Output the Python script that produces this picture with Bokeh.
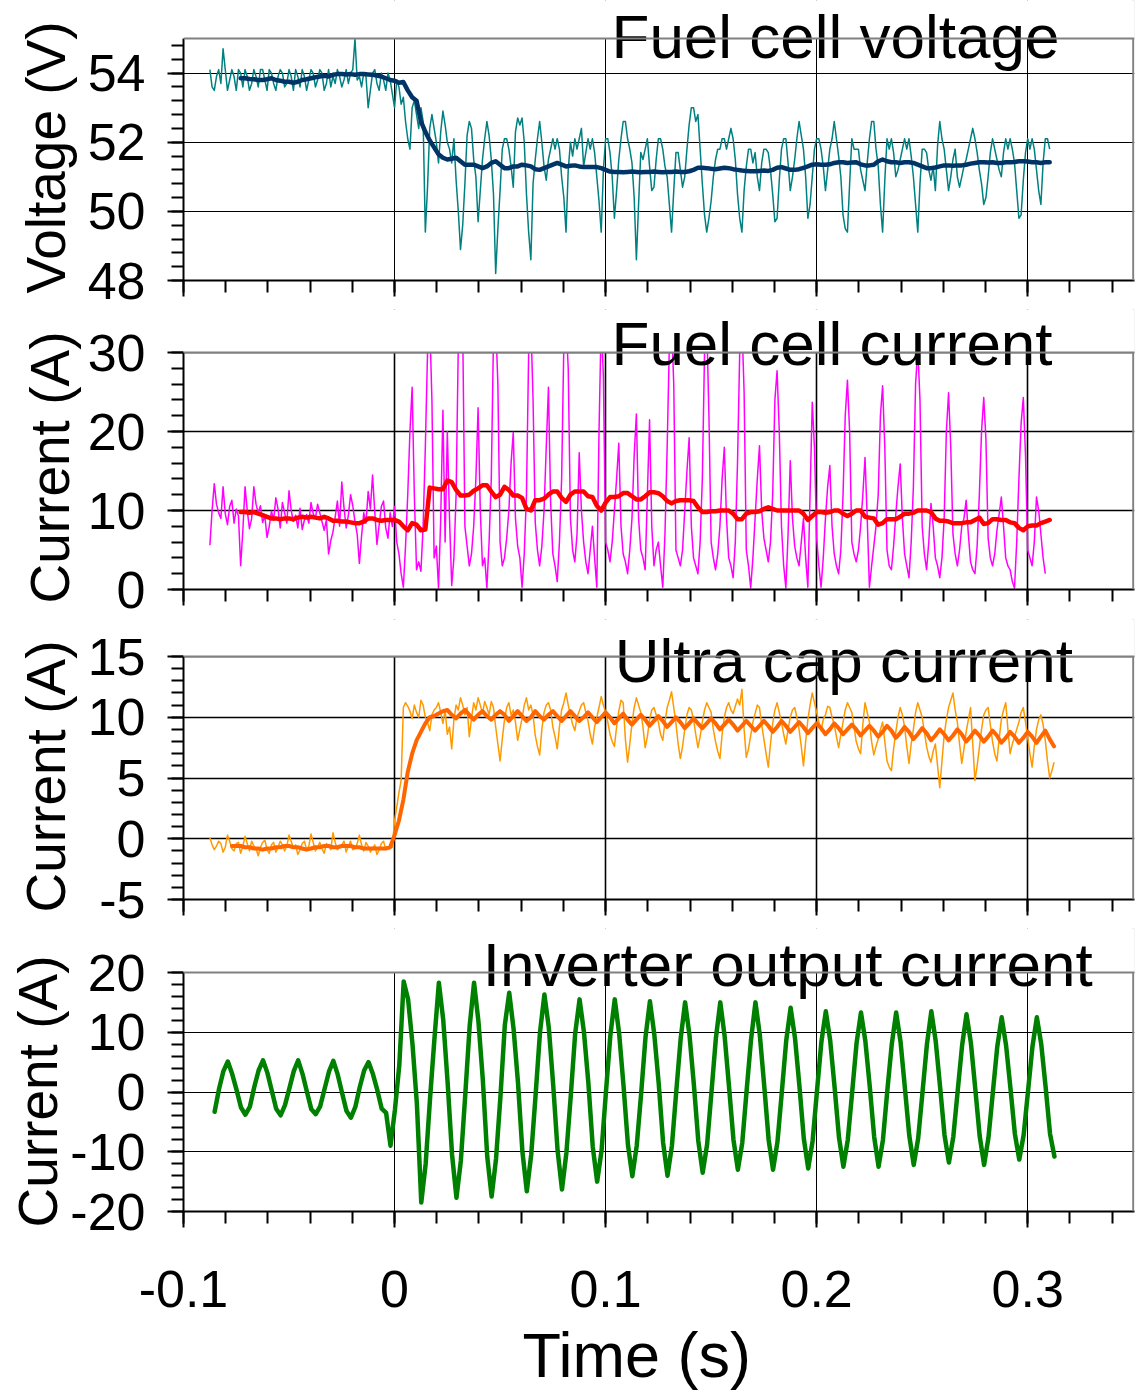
import numpy as np
from bokeh.plotting import figure
from bokeh.models import FixedTicker, Range1d, Label, Title, Span, BoxAnnotation
from bokeh.layouts import column
from bokeh.embed import file_html
from bokeh.resources import INLINE

FONT = "Liberation Sans"

# ---------------- data ----------------
DT = 1.0 / 480.0            # spacing of the averaged / inverter samples (s)
T_RAW0 = -0.0875            # first sample of the raw records (s)
T_VAVG0 = -0.0875 + 7 * DT  # first sample of the averaged voltage / fc current
T_UCAVG0 = -0.0875 + 5 * DT # first sample of the averaged ultra cap current
T_INV0 = -0.0790 - 3 * DT   # first sample of the inverter current
# raw records are read every DT/2: *_RAW holds the samples on the DT grid,
# *_RAW_MID the samples half a step later.

X_TICKS = [-0.1, 0.0, 0.1, 0.2, 0.3]
X_LABELS = ["-0.1", "0", "0.1", "0.2", "0.3"]

V_TICKS = [48, 50, 52, 54]
V_LABELS = ["48", "50", "52", "54"]
IFC_TICKS = [0, 10, 20, 30]
IFC_LABELS = ["0", "10", "20", "30"]
IUC_TICKS = [-5, 0, 5, 10, 15]
IUC_LABELS = ["-5", "0", "5", "10", "15"]
IINV_TICKS = [-20, -10, 0, 10, 20]
IINV_LABELS = ["-20", "-10", "0", "10", "20"]

# Fuel cell voltage, raw (V)
V_RAW = [
    54.1, 53.5, 54.1, 54.7, 53.5, 54.1, 53.5, 54.0, 54.1, 53.5,
    54.1, 53.6, 54.1, 53.5, 54.0, 53.5, 54.1, 53.6, 54.1, 53.5,
    53.9, 54.1, 53.5, 54.1, 53.6, 54.1, 53.5, 54.1, 53.9, 54.1,
    53.6, 54.1, 54.0, 55.0, 53.9, 54.0, 53.0, 54.0, 53.7, 54.0,
    53.5, 53.8,
    53.0, 53.6, 53.3, 52.1, 53.0, 52.8, 53.0, 49.4, 52.4, 52.4,
    51.4, 52.9, 52.0, 51.4, 50.9, 48.9, 50.8, 52.6, 51.5, 49.7,
    51.5, 52.6, 51.5, 48.2, 50.6, 52.1, 51.8, 50.7, 52.7, 52.7,
    50.5, 48.6, 51.5, 52.6, 51.3, 51.5, 52.1, 52.1, 51.0, 49.4,
    52.0, 52.1, 52.1, 51.3, 52.1, 52.1, 51.0, 49.4, 52.1, 51.7,
    49.8, 51.5, 52.6, 52.1, 51.4, 48.6, 51.7, 51.8, 51.3, 50.7,
    52.1, 51.8, 51.0, 49.4, 51.7, 51.2, 51.0, 52.5, 53.0, 52.8,
    50.8, 49.4, 50.3, 51.5, 51.8, 52.1, 52.1, 52.1, 50.5, 49.4,
    51.3, 51.8, 51.7, 50.6, 51.8, 51.7, 50.5, 49.8, 51.8, 52.1,
    50.6, 51.5, 52.6, 51.8, 49.8, 51.0, 52.1, 51.8, 50.6, 51.8,
    52.6, 51.6, 49.9, 49.4, 52.1, 51.8, 51.2, 50.6, 52.1, 52.6,
    51.3, 49.4, 52.1, 52.1, 51.0, 51.5, 52.1, 52.1, 51.0, 49.4,
    51.8, 51.7, 50.9, 50.6, 52.6, 51.8, 50.6, 51.5, 51.0, 51.0,
    51.5, 52.1, 52.1, 51.2, 50.2, 51.0, 52.1, 51.5, 51.0, 52.1,
    52.1, 51.4, 49.8, 50.9, 52.1, 52.1, 51.2, 50.2, 52.1, 51.8,
]
V_RAW_MID = [
    53.6, 53.9, 53.7, 54.1, 53.8, 53.9, 54.1, 53.6, 53.9, 53.7,
    53.9, 54.1, 53.8, 54.1, 53.7, 53.9, 54.0, 53.7, 53.9, 54.1,
    53.6, 53.9, 53.8, 54.0, 53.8, 54.0, 53.7, 53.6, 53.7, 53.9,
    53.8, 53.7, 54.1, 53.8, 53.6, 53.9, 53.5, 54.1, 53.5, 53.8,
    54.0, 53.4,
    53.8, 53.1, 52.6, 51.8, 53.2, 52.4, 52.6, 50.7, 52.8, 52.0,
    52.3, 52.5, 51.8, 52.1, 50.0, 49.6, 52.2, 52.4, 51.0, 50.6,
    52.1, 52.2, 50.5, 49.5, 51.8, 52.1, 51.3, 52.3, 52.5, 52.0,
    49.4, 50.8, 52.1, 52.0, 50.9, 51.8, 51.8, 51.8, 50.4, 51.2,
    51.6, 51.8, 52.4, 51.7, 51.8, 51.7, 50.3, 51.2, 52.1, 51.0,
    50.6, 52.1, 52.6, 51.8, 50.4, 50.2, 51.5, 52.1, 50.6, 51.5,
    52.1, 51.3, 50.2, 50.6, 51.7, 50.7, 51.8, 53.0, 52.6, 51.8,
    49.9, 49.8, 51.0, 51.8, 52.1, 51.8, 52.4, 51.5, 49.8, 50.6,
    51.8, 51.4, 51.0, 51.4, 51.8, 51.2, 49.7, 50.9, 52.1, 51.4,
    51.0, 52.1, 52.2, 51.0, 50.2, 51.8, 52.1, 51.3, 51.2, 52.1,
    52.1, 51.0, 49.5, 50.8, 51.8, 51.8, 50.9, 51.4, 52.6, 51.8,
    50.2, 50.9, 51.8, 51.7, 51.2, 51.8, 51.8, 51.6, 50.2, 50.8,
    51.8, 51.2, 51.3, 51.9, 52.1, 51.2, 51.0, 51.8, 50.7, 51.3,
    51.8, 52.4, 51.7, 50.8, 50.4, 51.7, 51.8, 51.2, 51.7, 51.8,
    51.8, 50.6, 49.9, 51.7, 51.8, 51.8, 50.6, 51.4, 52.1,
]

# Fuel cell voltage, averaged (V)
V_AVG = [
    53.85, 53.85, 53.83, 53.82, 53.80, 53.80, 53.82, 53.85, 53.80, 53.78,
    53.75, 53.75, 53.72, 53.75, 53.80, 53.82, 53.85, 53.88, 53.90, 53.92,
    53.90, 53.95, 53.97, 53.97, 53.96, 53.97, 53.95, 53.97, 53.97, 53.96,
    53.95, 53.93, 53.90, 53.85, 53.80,
    53.78, 53.72, 53.74, 53.50, 53.30, 53.20, 52.60, 52.30, 52.05, 51.85,
    51.65, 51.55, 51.50, 51.52, 51.55, 51.45, 51.35, 51.35, 51.35, 51.30,
    51.25, 51.30, 51.40, 51.45, 51.35, 51.25, 51.25, 51.30, 51.30, 51.35,
    51.33, 51.30, 51.22, 51.20, 51.25, 51.30, 51.35, 51.40, 51.35, 51.30,
    51.32, 51.33, 51.30, 51.28, 51.28, 51.28, 51.28, 51.25, 51.20, 51.15,
    51.14, 51.14, 51.13, 51.14, 51.15, 51.14, 51.13, 51.14, 51.14, 51.15,
    51.14, 51.13, 51.14, 51.14, 51.15, 51.14, 51.14, 51.16, 51.20, 51.26,
    51.26, 51.25, 51.23, 51.22, 51.24, 51.26, 51.25, 51.22, 51.20, 51.18,
    51.17, 51.16, 51.16, 51.17, 51.18, 51.17, 51.20, 51.26, 51.28, 51.24,
    51.20, 51.20, 51.22, 51.26, 51.30, 51.35, 51.36, 51.35, 51.35, 51.36,
    51.40, 51.42, 51.42, 51.40, 51.41, 51.42, 51.36, 51.33, 51.33, 51.35,
    51.45, 51.50, 51.45, 51.42, 51.42, 51.40, 51.42, 51.42, 51.40, 51.35,
    51.30, 51.25, 51.25, 51.27, 51.30, 51.33, 51.33, 51.32, 51.33, 51.33,
    51.35, 51.38, 51.40, 51.42, 51.42, 51.41, 51.42, 51.40, 51.40, 51.42,
    51.42, 51.43, 51.45, 51.45, 51.44, 51.42, 51.42, 51.40, 51.42, 51.42,
]

# Fuel cell current, raw (A)
IFC_RAW = [
    5.6, 13.4, 9.7, 13.0, 8.2, 11.3, 10.2, 3.0, 13.0, 7.7,
    13.0, 9.7, 8.5, 6.6, 9.9, 11.6, 7.8, 9.7, 12.5, 8.6,
    7.8, 7.6, 9.5, 11.0, 9.0, 9.7, 7.5, 4.5, 7.3, 11.2,
    13.6, 7.8, 12.0, 8.6, 3.3, 9.7, 12.4, 14.5, 5.7, 10.5,
    7.8, 9.7,
    10.5, 4.5, 0.3, 12.0, 25.6, 2.5, 2.3, 18.0, 34.0, 4.0,
    0.2, 22.7, 20.0, 0.5, 12.0, 34.0, 8.0, 3.0, 8.0, 23.0,
    3.0, 0.2, 14.0, 34.0, 6.0, 4.0, 10.0, 19.9, 5.5, 0.3,
    12.0, 34.0, 8.5, 3.0, 10.0, 25.6, 4.5, 1.0, 14.0, 34.0,
    9.0, 3.5, 17.3, 6.0, 2.0, 8.0, 0.3, 34.0, 6.0, 3.5,
    10.0, 18.5, 4.5, 2.0, 9.0, 22.2, 5.0, 2.5, 21.5, 3.0,
    6.0, 0.3, 18.0, 34.0, 5.0, 3.0, 10.0, 19.2, 4.0, 2.0,
    14.0, 34.0, 6.0, 2.5, 8.0, 18.0, 4.0, 1.5, 16.0, 34.0,
    5.0, 0.2, 9.0, 18.2, 6.5, 3.5, 12.0, 27.7, 8.0, 0.2,
    16.3, 5.5, 3.0, 9.0, 0.3, 23.7, 6.5, 0.3, 9.0, 15.7,
    4.5, 2.0, 12.0, 26.5, 6.0, 3.5, 8.0, 16.7, 0.3, 5.5,
    12.0, 25.8, 5.0, 2.5, 9.5, 15.9, 4.5, 1.5, 13.0, 30.5,
    8.0, 2.5, 10.9, 4.0, 1.5, 9.0, 24.9, 7.0, 3.0, 8.0,
    11.3, 3.5, 2.0, 12.0, 24.3, 6.5, 3.0, 7.5, 11.7, 4.0,
    2.5, 0.2, 14.0, 24.3, 5.0, 3.0, 11.7, 7.0, 2.0,
]
IFC_RAW_MID = [
    10.0, 10.8, 9.0, 9.6, 10.5, 8.4, 9.3, 7.5, 10.0, 9.0,
    10.8, 10.6, 9.3, 8.0, 8.8, 10.2, 11.0, 8.4, 10.0, 9.4,
    10.3, 8.8, 8.4, 9.6, 10.8, 8.6, 8.8, 6.2, 9.2, 8.0,
    10.4, 9.4, 10.6, 7.0, 6.8, 8.4, 10.2, 9.8, 8.2, 11.2,
    6.5, 8.0,
    6.0, 2.0, 5.5, 20.0, 12.0, 3.5, 8.0, 30.0, 24.0, 5.5,
    9.0, 6.0, 9.0, 4.0, 31.0, 33.0, 5.5, 4.5, 14.0, 10.0,
    4.0, 6.0, 32.0, 26.0, 3.0, 6.5, 16.0, 9.0, 4.0, 4.5,
    30.0, 24.0, 5.0, 5.5, 18.0, 11.0, 3.0, 6.0, 31.0, 28.0,
    5.0, 7.0, 10.0, 3.5, 5.0, 4.0, 20.0, 27.0, 5.0, 6.0,
    14.0, 8.0, 3.5, 5.0, 17.0, 9.0, 4.0, 12.0, 8.0, 5.0,
    3.0, 7.0, 31.0, 26.0, 4.0, 5.0, 15.0, 8.0, 3.0, 6.0,
    30.0, 22.0, 4.0, 4.5, 14.0, 9.0, 3.0, 6.0, 30.0, 25.0,
    3.0, 4.0, 14.0, 10.0, 5.0, 6.0, 24.0, 20.0, 3.0, 7.0,
    9.0, 4.0, 6.0, 4.0, 12.0, 18.0, 3.0, 4.0, 13.0, 8.0,
    3.0, 5.0, 22.0, 20.0, 4.5, 5.0, 12.0, 9.0, 3.0, 8.0,
    22.0, 18.0, 3.0, 5.5, 13.0, 9.0, 3.0, 6.0, 26.0, 24.0,
    4.5, 6.0, 8.0, 3.0, 4.0, 20.0, 18.0, 4.5, 5.0, 9.0,
    7.0, 2.5, 5.5, 20.0, 19.0, 4.0, 4.5, 9.5, 8.0, 3.0,
    1.0, 6.0, 21.0, 17.0, 4.0, 6.0, 10.0, 4.0,
]

# Fuel cell current, averaged (A)
IFC_AVG = [
    9.8, 9.8, 9.7, 9.8, 9.6, 9.4, 9.2, 9.0, 9.0, 8.9,
    9.0, 9.0, 8.9, 9.1, 9.2, 9.1, 9.2, 9.1, 9.0, 9.2,
    9.0, 8.7, 8.7, 8.6, 8.6, 8.5, 8.4, 8.4, 8.6, 9.0,
    9.0, 8.8, 8.7, 8.8, 8.8,
    8.8, 8.6, 8.0, 7.5, 8.4, 8.2, 7.5, 7.6, 12.9, 12.8,
    12.7, 12.7, 13.8, 13.6, 12.6, 11.9, 11.9, 12.0, 12.5, 12.8,
    13.2, 13.2, 12.4, 11.7, 12.0, 13.0, 12.6, 11.9, 11.9, 11.6,
    10.2, 10.0, 11.3, 11.3, 11.5, 12.0, 12.4, 12.4, 11.6, 11.1,
    12.0, 12.4, 12.4, 12.4, 11.8, 11.7, 10.6, 10.0, 11.0, 11.7,
    11.7, 11.8, 12.2, 12.2, 11.8, 11.4, 11.4, 11.8, 12.3, 12.3,
    12.2, 11.8, 11.2, 10.9, 11.2, 11.3, 11.3, 11.3, 11.2, 10.4,
    9.8, 9.8, 9.9, 9.9, 10.0, 10.0, 10.0, 9.6, 8.9, 8.9,
    9.6, 9.8, 9.8, 9.9, 10.2, 10.4, 10.2, 10.0, 10.0, 10.0,
    10.0, 10.0, 10.0, 9.6, 8.8, 9.3, 9.8, 9.8, 9.7, 9.8,
    10.0, 10.0, 9.6, 9.3, 9.6, 10.0, 10.0, 9.2, 9.1, 9.0,
    8.2, 8.4, 8.9, 8.9, 8.9, 9.2, 9.6, 9.6, 9.7, 10.0,
    10.0, 10.0, 9.8, 9.0, 8.7, 8.7, 8.6, 8.4, 8.4, 8.4,
    8.5, 8.5, 8.8, 9.1, 8.3, 8.4, 8.9, 8.9, 8.8, 8.8,
    8.5, 8.4, 7.8, 7.5, 8.0, 8.1, 8.1, 8.4, 8.6, 8.8,
]

# Ultra cap current, raw (A)
IUC_RAW = [
    0.1, -0.9, -0.2, -1.1, 0.3, -0.8, -0.4, -1.2, 0.2, -1.0,
    -0.6, -1.4, -0.3, -0.9, -0.5, -1.1, -0.2, -1.0, 0.3, -0.8,
    -1.3, -0.4, -0.9, 0.4, -1.0, -0.3, -1.2, -0.6, 0.5, -0.9,
    -0.5, -1.1, -0.2, -0.8, 0.3, -1.0, -0.6, -0.8, -1.3, -0.4,
    -0.9, -0.5,
    1.5, 3.8, 10.8, 10.9, 9.9, 10.4, 11.4, 10.0, 8.9, 10.6,
    11.2, 9.5, 8.6, 7.4, 11.0, 11.6, 10.2, 8.4, 11.2, 11.6,
    10.3, 10.8, 11.3, 9.2, 6.4, 9.8, 11.2, 10.6, 8.1, 9.9,
    11.6, 11.0, 8.5, 6.9, 10.4, 11.2, 9.2, 7.4, 10.6, 12.0,
    10.2, 8.9, 10.5, 11.2, 9.7, 7.8, 10.0, 11.7, 10.4, 8.6,
    7.6, 10.5, 11.2, 6.3, 9.5, 11.6, 10.4, 7.5, 9.8, 10.8,
    9.6, 8.1, 10.8, 12.1, 9.5, 6.6, 9.0, 10.8, 9.8, 7.5,
    9.6, 11.2, 10.4, 8.0, 6.6, 10.0, 11.2, 10.3, 11.5, 12.3,
    6.7, 8.5, 10.3, 10.8, 8.2, 5.9, 9.5, 11.2, 9.6, 7.8,
    10.0, 10.8, 9.0, 6.0, 9.8, 12.0, 10.4, 8.9, 10.2, 10.8,
    9.4, 7.5, 9.6, 11.2, 10.4, 8.0, 7.0, 11.2, 9.6, 6.9,
    8.2, 9.6, 6.4, 5.6, 8.8, 10.8, 9.2, 6.2, 9.0, 11.2,
    10.0, 7.6, 6.3, 7.8, 4.2, 8.5, 10.8, 12.0, 9.6, 6.2,
    8.8, 10.8, 4.8, 7.5, 10.2, 10.8, 8.0, 6.4, 9.8, 11.2,
    7.0, 8.4, 9.6, 10.8, 8.3, 5.9, 9.0, 10.2, 8.1, 5.0, 6.3,
]
IUC_RAW_MID = [
    -0.5, -0.6, -0.4, -0.7, -0.2, -1.0, -0.3, -0.6, -0.4, -0.2,
    -0.8, -0.7, -0.1, -1.2, -0.3, -0.7, -0.5, -0.6, -0.2, -0.5,
    -0.9, -0.2, -0.6, -0.3, -0.7, -0.8, -0.4, -0.9, -0.3, -0.7,
    -0.2, -0.6, -0.9, -0.4, -0.5, -0.3, -1.1, -0.5, -0.9, -0.2,
    -0.8, -0.7,
    2.6, 4.8, 11.2, 10.5, 11.0, 10.0, 11.0, 9.6, 10.2, 10.8,
    10.4, 10.6, 9.2, 9.8, 10.6, 11.0, 10.8, 9.9, 10.6, 11.0,
    11.3, 10.2, 10.8, 7.8, 8.2, 10.8, 10.2, 9.6, 9.0, 11.0,
    10.6, 10.2, 7.6, 9.0, 11.0, 10.6, 8.4, 9.2, 11.2, 11.0,
    9.4, 10.0, 11.0, 10.4, 8.6, 9.2, 10.8, 11.0, 9.6, 8.0,
    9.2, 11.4, 8.2, 7.8, 10.8, 11.0, 9.2, 8.4, 10.6, 10.2,
    8.6, 9.6, 11.4, 10.8, 7.8, 7.6, 10.2, 10.6, 8.6, 8.4,
    10.6, 10.8, 9.0, 7.2, 8.6, 10.8, 10.6, 10.9, 11.0, 9.0,
    7.4, 9.6, 11.0, 9.4, 7.0, 7.8, 10.6, 10.4, 8.6, 9.0,
    10.6, 10.0, 7.6, 8.0, 11.0, 11.2, 9.6, 9.8, 10.9, 10.0,
    8.4, 8.6, 10.6, 10.8, 9.2, 7.4, 9.4, 10.4, 8.0, 7.6,
    9.0, 8.0, 5.9, 7.4, 10.0, 10.2, 7.6, 7.8, 10.4, 10.6,
    8.8, 6.8, 7.2, 6.0, 6.4, 9.8, 11.4, 10.6, 7.8, 7.4,
    9.8, 7.8, 6.0, 9.0, 10.6, 9.4, 7.0, 8.2, 10.6, 9.0,
    7.8, 9.0, 10.4, 9.6, 7.0, 7.6, 9.8, 9.4, 6.4, 5.6,
]

# Ultra cap current, averaged (A)
IUC_AVG = [
    -0.6, -0.6, -0.6, -0.7, -0.7, -0.8, -0.8, -0.9, -0.8, -0.8,
    -0.7, -0.7, -0.6, -0.6, -0.7, -0.7, -0.8, -0.9, -0.8, -0.7,
    -0.7, -0.6, -0.6, -0.7, -0.7, -0.6, -0.6, -0.6, -0.7, -0.7,
    -0.8, -0.8, -0.8, -0.8, -0.8, -0.8, -0.7,
    0.3, 1.5, 3.2, 5.5, 7.0, 8.1, 8.8, 9.5, 10.0, 10.1,
    10.3, 10.5, 10.6, 10.2, 9.9, 10.3, 10.6, 10.2, 9.8, 10.2,
    10.5, 10.1, 9.8, 10.2, 10.5, 10.2, 9.7, 10.1, 10.5, 10.1,
    9.7, 10.0, 10.5, 10.1, 9.8, 10.2, 10.5, 10.1, 9.7, 10.1,
    10.5, 10.1, 9.7, 10.0, 10.4, 10.0, 9.6, 10.0, 10.4, 10.0,
    9.5, 9.9, 10.3, 9.8, 9.4, 9.8, 10.2, 9.8, 9.3, 9.7,
    10.1, 9.7, 9.2, 9.6, 10.0, 9.6, 9.1, 9.5, 9.9, 9.5,
    9.1, 9.5, 9.9, 9.5, 9.0, 9.4, 9.8, 9.4, 8.9, 9.3,
    9.7, 9.3, 8.9, 9.3, 9.7, 9.3, 8.8, 9.2, 9.7, 9.3,
    8.8, 9.2, 9.6, 9.2, 8.7, 9.1, 9.5, 9.1, 8.6, 9.0,
    9.5, 9.1, 8.6, 9.0, 9.4, 9.0, 8.5, 8.9, 9.3, 8.9,
    8.4, 8.8, 9.3, 8.9, 8.3, 8.7, 9.2, 8.8, 8.2, 8.6,
    9.1, 8.7, 8.1, 8.5, 9.0, 8.6, 8.1, 8.5, 9.0, 8.6,
    8.0, 8.4, 8.9, 8.5, 8.0, 8.4, 8.9, 8.5, 7.9, 8.3,
    8.8, 8.4, 7.9, 8.3, 8.8, 8.4, 7.9, 8.4, 8.9, 8.2, 7.6,
]

# Inverter output current (A)
IINV = [
    -3.3, 0.5, 3.5,
    5.1, 3.0, 0.3, -2.6, -3.8, -2.5, 0.8, 3.6,
    5.3, 3.2, 0.2, -2.8, -3.9, -2.2, 0.6, 3.5,
    5.3, 3.0, 0.0, -2.9, -3.7, -2.4, 0.5, 3.4,
    5.2, 2.9, -0.2, -3.2, -4.3, -2.5, 0.8, 3.6,
    5.0, 3.0, 0.3, -2.8, -3.5, -9.0, -3.0, 4.5,
    18.5, 15.5, 8.0, -2.0, -18.5, -12.0, -1.0, 9.0,
    18.3, 12.0, 1.5, -10.5, -17.7, -11.5, -0.5, 11.0,
    18.3, 11.8, 2.0, -10.8, -17.5, -11.2, -0.8, 11.2,
    16.6, 10.5, 1.5, -10.0, -16.6, -10.5, -0.5, 10.0,
    16.3, 10.8, 1.2, -9.8, -16.3, -10.2, -0.6, 9.8,
    15.5, 10.0, 1.5, -9.2, -15.0, -9.8, 0.0, 9.5,
    15.5, 9.8, 1.0, -8.8, -14.1, -9.0, -0.3, 9.2,
    15.2, 9.6, 1.4, -8.5, -14.0, -9.0, 0.2, 9.0,
    15.0, 9.5, 1.2, -8.2, -13.5, -8.8, 0.0, 9.0,
    15.0, 9.3, 0.8, -8.0, -13.0, -8.5, 0.3, 8.8,
    15.0, 9.5, 1.0, -8.0, -13.0, -8.4, 0.0, 8.6,
    14.1, 9.0, 1.0, -7.8, -12.8, -8.2, 0.2, 8.4,
    13.5, 8.6, 0.8, -7.6, -12.5, -8.0, 0.0, 8.2,
    13.3, 8.5, 0.9, -7.5, -12.5, -8.0, 0.3, 8.0,
    13.3, 8.4, 0.6, -7.4, -12.2, -7.8, 0.0, 8.0,
    13.5, 8.5, 0.8, -7.2, -11.8, -7.5, 0.2, 7.8,
    13.0, 8.2, 0.5, -7.4, -12.2, -7.6, 0.0, 7.6,
    12.5, 7.8, 0.6, -7.0, -11.3, -7.2, 0.2, 7.6,
    12.5, 8.0, 0.8, -7.0, -10.8,
]


def times(t0, values, step=DT):
    return t0 + step * np.arange(len(values))


def merge(on_grid, mid):
    """Put each half-step sample after its on-grid sample."""
    out = []
    for i, v in enumerate(on_grid):
        out.append(v)
        if i < len(mid) and i < len(on_grid) - 1:
            out.append(mid[i])
    return out


V_RAW_ALL = merge(V_RAW, V_RAW_MID)
IFC_RAW_ALL = merge(IFC_RAW, IFC_RAW_MID)
IUC_RAW_ALL = merge(IUC_RAW, IUC_RAW_MID)

# ---------------- layout / styling ----------------
X_MINOR = [round(-0.1 + 0.02 * i, 2) for i in range(23)]
X_START, X_END = -0.1, 0.35
X_PAD = 0.0006            # lets the right border line show fully
PAGE_W = 1144
TITLE_SIZE = "62px"


def make_panel(ext, vis_h, bottom, y0, y1, yticks, ylabels, yminor,
               ylabel, ylab_offset, ylab_standoff, grid_w):
    """ext: pixels of title room above the visible plot box (inside frame)."""
    units_per_px = (y1 - y0) / vis_h
    p = figure(width=PAGE_W, height=ext + vis_h + bottom,
               x_range=Range1d(X_START, X_END + X_PAD),
               y_range=Range1d(y0, y1 + ext * units_per_px),
               output_backend="svg", toolbar_location=None,
               min_border_left=183, min_border_right=10,
               min_border_top=0, min_border_bottom=bottom)
    p.outline_line_color = None
    p.background_fill_color = "white"
    p.border_fill_color = "white"
    xa = p.xaxis[0]
    ya = p.yaxis[0]
    xa.ticker = FixedTicker(ticks=X_TICKS, minor_ticks=X_MINOR)
    ya.ticker = FixedTicker(ticks=yticks, minor_ticks=yminor)
    ya.bounds = (y0, y1)
    for ax in (xa, ya):
        ax.axis_line_width = 2
        ax.axis_line_color = "black"
        ax.major_tick_line_width = 2
        ax.minor_tick_line_width = 2
        ax.major_tick_line_color = "black"
        ax.minor_tick_line_color = "black"
        ax.major_tick_out = 16
        ax.major_tick_in = 0
        ax.minor_tick_out = 12
        ax.minor_tick_in = 0
        ax.major_label_text_font = FONT
        ax.major_label_text_color = "black"
    ya.major_label_text_font_size = "52px"
    ya.major_label_standoff = 22
    ya.major_label_overrides = dict(zip(yticks, ylabels))
    xa.major_label_text_font_size = "1px"
    xa.major_label_text_alpha = 0
    xa.major_label_standoff = 0
    p.xgrid.grid_line_color = "black"
    p.xgrid.grid_line_width = grid_w
    p.ygrid.grid_line_color = "black"
    p.ygrid.grid_line_width = grid_w
    # y axis title (placed relative to the bottom of the plot box)
    p.add_layout(Title(text=ylabel, align="left", offset=ylab_offset,
                       standoff=ylab_standoff, text_font=FONT,
                       text_font_size="55px", text_font_style="normal",
                       text_color="black"), "left")
    # right border of the plot box
    p.add_layout(Span(location=X_END, dimension="height",
                      line_color="#808080", line_width=2))
    return p


def finish_panel(p, y1, title, tx, ty):
    # blank the title room above the plot box, then the title, then the top border
    p.add_layout(BoxAnnotation(bottom=y1, fill_color="white", fill_alpha=1.0,
                               line_color=None))
    p.add_layout(Label(x=tx, y=ty, text=title, text_font=FONT,
                       text_font_size=TITLE_SIZE, text_color="black",
                       text_align="left", text_baseline="middle"))
    p.add_layout(Span(location=y1, dimension="width", line_color="#808080",
                      line_width=2, level="overlay"))


# ---------------- panel 1: fuel cell voltage ----------------
p1 = make_panel(38, 242, 29, 48, 55, V_TICKS, V_LABELS,
                [round(48 + 0.4 * i, 1) for i in range(18)],
                "Voltage (V)", -13, 16, 1)
p1.line(times(T_RAW0, V_RAW_ALL, DT / 2), V_RAW_ALL, line_color="#008080",
        line_width=1.5, line_join="round")
p1.line(times(T_VAVG0, V_AVG), V_AVG, line_color="#003366", line_width=4.5,
        line_join="round", line_cap="round")
finish_panel(p1, 55, "Fuel cell voltage", 0.1028, 55.072)

# ---------------- panel 2: fuel cell current ----------------
p2 = make_panel(43, 237, 30, 0, 30, IFC_TICKS, IFC_LABELS,
                list(range(0, 31, 2)), "Current (A)", -14, 7, 1.6)
p2.line(times(T_RAW0, IFC_RAW_ALL, DT / 2), IFC_RAW_ALL, line_color="#FF00FF",
        line_width=1.5, line_join="round")
p2.line(times(T_VAVG0, IFC_AVG), IFC_AVG, line_color="#FF0000",
        line_width=4.5, line_join="round", line_cap="round")
finish_panel(p2, 30, "Fuel cell current", 0.1028, 31.076)

# ---------------- panel 3: ultra cap current ----------------
p3 = make_panel(37, 243, 29, -5, 15, IUC_TICKS, IUC_LABELS,
                list(range(-5, 16)), "Current (A)", -13, 16, 1.6)
p3.line(times(T_RAW0, IUC_RAW_ALL, DT / 2), IUC_RAW_ALL, line_color="#FF9900",
        line_width=1.5, line_join="round")
p3.line(times(T_UCAVG0, IUC_AVG), IUC_AVG, line_color="#FF6600",
        line_width=4, line_join="round", line_cap="round")
finish_panel(p3, 15, "Ultra cap current", 0.1043, 14.63)

# ---------------- panel 4: inverter output current ----------------
p4 = make_panel(44, 239, 110, -20, 20, IINV_TICKS, IINV_LABELS,
                list(range(-20, 21, 2)), "Current (A)", -16, -3, 1)
p4.line(times(T_INV0, IINV), IINV, line_color="#008000", line_width=4.5,
        line_join="round", line_cap="round")
finish_panel(p4, 20, "Inverter output current", 0.0418, 21.42)
xa4 = p4.xaxis[0]
xa4.major_label_text_font_size = "52px"
xa4.major_label_text_alpha = 1
xa4.major_label_standoff = 43
xa4.major_label_overrides = dict(zip(X_TICKS, X_LABELS))

# ---------------- x axis title strip (frame aligned with the panels) ----------------
STRIP_H = 72
p5 = figure(width=PAGE_W, height=STRIP_H,
            x_range=Range1d(X_START, X_END + X_PAD), y_range=Range1d(0, STRIP_H),
            output_backend="svg", toolbar_location=None,
            x_axis_location=None, y_axis_location=None,
            min_border_left=183, min_border_right=10, min_border_top=0,
            min_border_bottom=0)
p5.outline_line_color = None
p5.grid.visible = False
p5.add_layout(Label(x=0.0606, y=39, text="Time (s)", text_font=FONT,
                    text_font_size="63px", text_color="black",
                    text_align="left", text_baseline="middle"))

layout = column(p1, p2, p3, p4, p5, spacing=0)
open("out.html", "w").write(file_html(layout, INLINE))
